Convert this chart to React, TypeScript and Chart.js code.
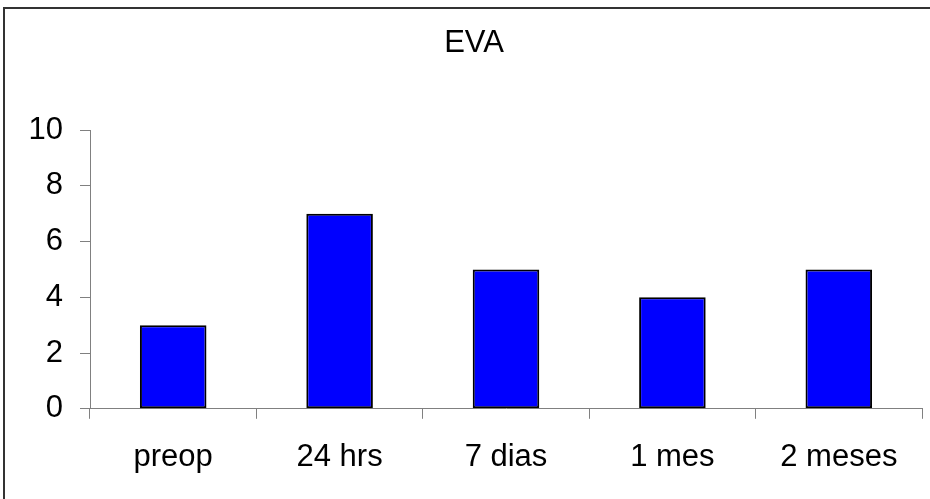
import React, { useEffect, useRef } from "react";
import { Chart, registerables } from "chart.js";

Chart.register(...registerables);

const categories = ["preop", "24 hrs", "7 dias", "1 mes", "2 meses"];
const evaValues = [3, 7, 5, 4, 5];
const titleText = "EVA";
const yMin = 0;
const yMax = 10;
const yStep = 2;

const FONT = "'Liberation Sans', Arial, sans-serif";
const AXIS = "#808080";

export default function App() {
  const ref = useRef<HTMLCanvasElement | null>(null);

  useEffect(() => {
    if (!ref.current) return;
    const chart = new Chart(ref.current, {
      type: "bar",
      data: {
        labels: categories,
        datasets: [
          {
            label: titleText,
            data: evaValues,
            backgroundColor: "#0000FF",
            borderColor: "#000000",
            borderWidth: 2,
            borderSkipped: false,
            barPercentage: 0.8,
            categoryPercentage: 0.5,
          },
        ],
      },
      options: {
        responsive: false,
        animation: false,
        devicePixelRatio: 1,
        layout: { padding: { left: 26, right: 8, top: 0, bottom: 3 } },
        plugins: {
          legend: { display: false },
          tooltip: { enabled: false },
          title: {
            display: true,
            text: titleText,
            color: "#000",
            font: { family: FONT, size: 31, weight: "normal" },
            padding: { top: 25, bottom: 68 },
          },
        },
        scales: {
          x: {
            grid: {
              display: true,
              drawOnChartArea: false,
              drawTicks: true,
              tickLength: 10,
              color: AXIS,
              offset: true,
            },
            border: { display: true, color: AXIS, width: 1 },
            ticks: {
              color: "#000",
              font: { family: FONT, size: 31 },
              padding: 20,
              maxRotation: 0,
            },
          },
          y: {
            min: yMin,
            max: yMax,
            afterFit: (scale: any) => {
              scale.width = 64;
            },
            grid: {
              display: true,
              drawOnChartArea: false,
              drawTicks: true,
              tickLength: 10,
              color: AXIS,
            },
            border: { display: true, color: AXIS, width: 1 },
            ticks: {
              stepSize: yStep,
              color: "#000",
              font: { family: FONT, size: 31 },
              padding: 17,
            },
          },
        },
      },
    });
    return () => chart.destroy();
  }, []);

  return (
    <div style={{ position: "fixed", left: 0, top: 0, width: 930, height: 499, background: "#fff" }}>
      <canvas ref={ref} width={930} height={499} style={{ position: "absolute", left: 0, top: 0 }} />
      <div
        style={{
          position: "absolute",
          left: 3,
          top: 7,
          width: 940,
          height: 500,
          borderLeft: "2px solid #333",
          borderTop: "2px solid #333",
          pointerEvents: "none",
        }}
      />
    </div>
  );
}
